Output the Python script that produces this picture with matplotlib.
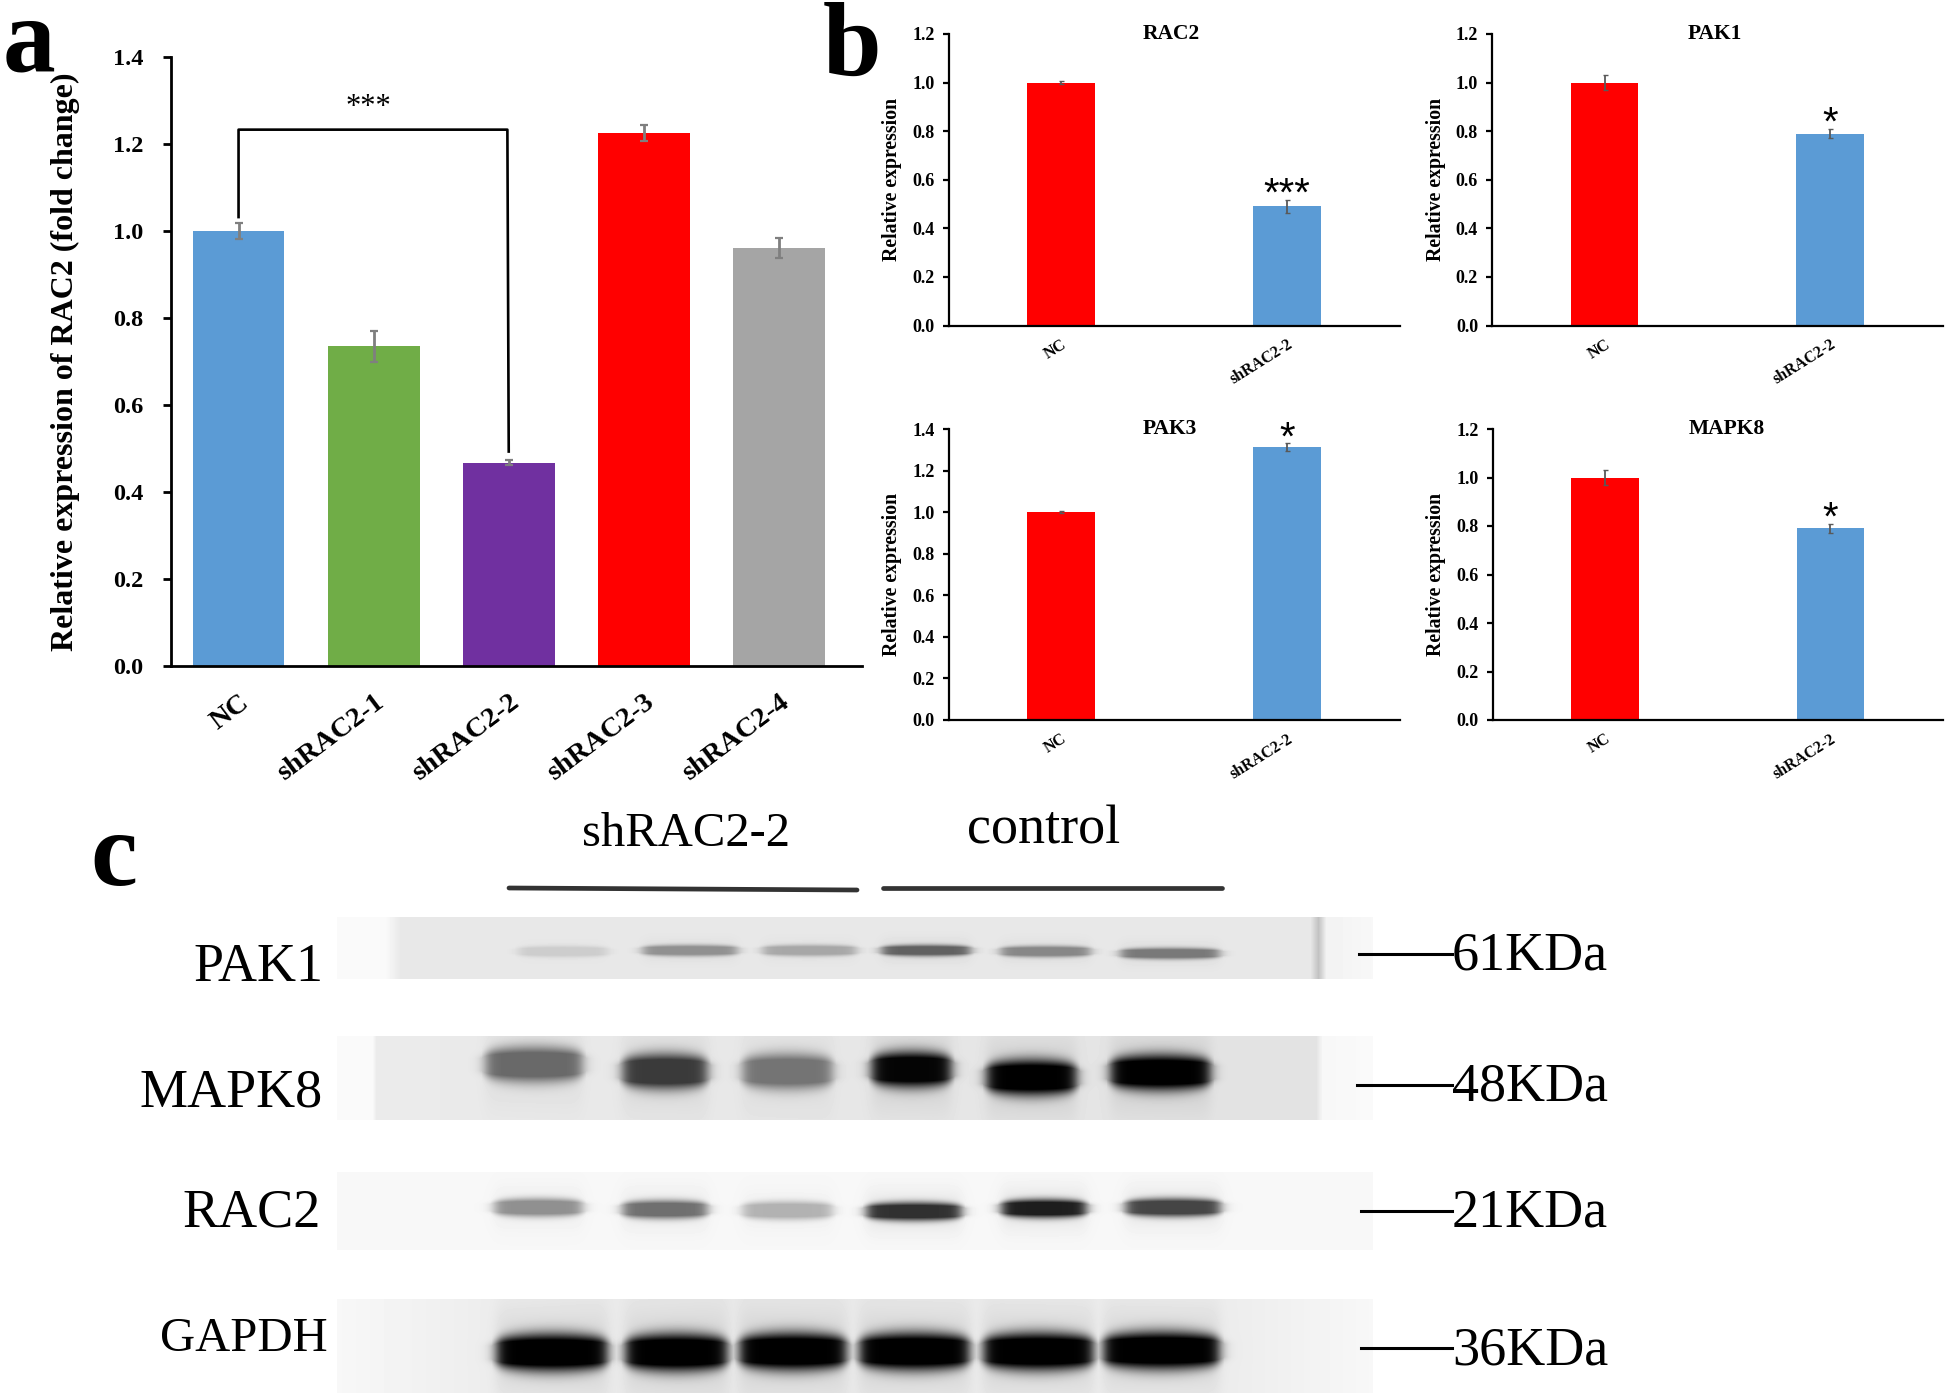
import numpy as np
import matplotlib
matplotlib.use('Agg')
import matplotlib.pyplot as plt
from matplotlib.transforms import ScaledTranslation

plt.rcParams['font.family'] = ['Liberation Serif', 'DejaVu Serif']

W, H = 1946, 1396

# panel a
a_labels = ['NC', 'shRAC2-1', 'shRAC2-2', 'shRAC2-3', 'shRAC2-4']
a_values = [1.0, 0.735, 0.467, 1.225, 0.962]
a_errors = [0.018, 0.035, 0.006, 0.018, 0.023]
a_colors = ['#5B9BD5', '#70AD47', '#7030A0', '#FF0000', '#A5A5A5']
a_ticks = [0.0, 0.2, 0.4, 0.6, 0.8, 1.0, 1.2, 1.4]

# panel b
b_labels = ['NC', 'shRAC2-2']
b_titles = ['RAC2', 'PAK1', 'PAK3', 'MAPK8']
b_values = [[1.0, 0.49], [1.0, 0.79], [1.0, 1.315], [1.0, 0.79]]
b_errors = [[0.006, 0.028], [0.03, 0.018], [0.005, 0.02], [0.03, 0.018]]
b_stars = ['***', '*', '*', '*']
b_star_y = [0.54, 0.83, 1.355, 0.83]
b_ymax = [1.2, 1.2, 1.4, 1.2]

# panel c: band darkness per lane (0 = none, 1 = black)
blot_names = ['PAK1', 'MAPK8', 'RAC2', 'GAPDH']
blot_sizes = ['61KDa', '48KDa', '21KDa', '36KDa']
pak1_bands = [0.12, 0.38, 0.28, 0.58, 0.42, 0.48]
mapk8_bands = [0.55, 0.75, 0.5, 0.98, 1.0, 1.0]
rac2_bands = [0.42, 0.55, 0.28, 0.8, 0.88, 0.72]
gapdh_bands = [1.0, 1.0, 1.0, 1.0, 1.0, 1.0]


def px_axes(fig, left, top, right, bottom):
    return fig.add_axes([left / W, 1 - bottom / H, (right - left) / W, (bottom - top) / H])


def style_axes(ax, lw, tick_len, pad):
    ax.spines['top'].set_visible(False)
    ax.spines['right'].set_visible(False)
    ax.spines['left'].set_linewidth(lw)
    ax.spines['bottom'].set_linewidth(lw)
    ax.tick_params(axis='y', width=lw, length=tick_len, pad=pad)


def strip_image(bands, lanes, centre, half, bg_x, bg_v, top, bottom):
    """Grey picture of one blot strip, one pixel per figure pixel"""
    xs = np.arange(337, 1373)
    ys = np.arange(top, bottom)
    bg = np.interp(xs, bg_x, bg_v)
    gx, gy = np.meshgrid(xs, ys)
    dark = np.zeros(gx.shape)
    for strength, (x0, x1), cy in zip(bands, lanes, centre):
        mid, hw = (x0 + x1) / 2, (x1 - x0) / 2
        u = (gx - mid) / (hw * 1.08)
        # bands taper towards the lane ends
        local = half * (0.5 + 0.5 * np.sqrt(np.clip(1 - u ** 2, 0, 1))) + 0.5
        py = np.exp(-np.abs((gy - cy) / local) ** 2.6)
        px = 0.5 * (np.tanh((gx - x0) / 7.0) - np.tanh((gx - x1) / 7.0))
        halo = np.exp(-((gy - cy) / (half * 2.4)) ** 2) * 0.1
        dark = np.maximum(dark, strength * np.minimum(py * 1.3 + halo, 1) * px)
    return np.clip(bg[None, :] * (1 - dark), 0, 1)


fig = plt.figure(figsize=(W / 100, H / 100), dpi=100)
fig.patch.set_facecolor('white')

# a
ax = px_axes(fig, 171, 57, 862, 666)
xs = np.arange(len(a_values))
ax.bar(xs, a_values, width=0.68, color=a_colors)
ax.errorbar(xs, a_values, yerr=a_errors, fmt='none', ecolor='#7F7F7F',
            elinewidth=2, capsize=2.8, capthick=1.6)
ax.set_xlim(-0.5, 4.615)
ax.set_ylim(0, 1.4)
ax.set_yticks(a_ticks)
ax.set_yticklabels(['%.1f' % t for t in a_ticks], fontsize=17.5, fontweight='bold')
ax.set_xticks(xs)
ax.set_xticklabels(a_labels, fontsize=20.5, fontweight='bold', rotation=37,
                   ha='right', rotation_mode='anchor')
shift = ScaledTranslation(-5 / 100, 0, fig.dpi_scale_trans)
for label in ax.get_xticklabels():
    label.set_transform(label.get_transform() + shift)
style_axes(ax, 2.0, 6, 14)
ax.tick_params(axis='x', length=0, pad=17)
ax.set_ylabel('Relative expression of RAC2 (fold change)', fontsize=23, fontweight='bold')
ax.yaxis.set_label_coords(-0.131, 0.5)
ax.plot([0, 0, 1.99, 2.0], [1.032, 1.233, 1.233, 0.493], color='black', lw=1.9, clip_on=False)
ax.text(0.96, 1.283, '***', fontsize=22, ha='center', va='center')

# b
b_boxes = [(948.5, 34, 1399.5, 325.5), (1492, 34, 1942.5, 325.5),
           (948.5, 429, 1399.5, 720), (1492.5, 429, 1943, 720)]
for i, box in enumerate(b_boxes):
    ax = px_axes(fig, *box)
    ax.bar([0, 1], b_values[i], width=0.3, color=['#FF0000', '#5B9BD5'])
    ax.errorbar([0, 1], b_values[i], yerr=b_errors[i], fmt='none', ecolor='#595959',
                elinewidth=1.3, capsize=1.8, capthick=1)
    ax.set_xlim(-0.5, 1.5)
    ax.set_ylim(0, b_ymax[i])
    ticks = np.arange(0, b_ymax[i] + 0.01, 0.2)
    ax.set_yticks(ticks)
    ax.set_yticklabels(['%.1f' % t for t in ticks], fontsize=13, fontweight='bold')
    ax.set_xticks([0, 1])
    ax.set_xticklabels(b_labels, fontsize=11.5, fontweight='bold', rotation=32,
                       ha='right', rotation_mode='anchor')
    style_axes(ax, 1.6, 4, 6)
    ax.tick_params(axis='x', length=0, pad=8)
    ax.set_ylabel('Relative expression', fontsize=14.2, fontweight='bold')
    ax.yaxis.set_label_coords(-0.103, 0.5)
    ax.text(1, b_star_y[i], b_stars[i], fontsize=29, ha='center', va='center',
            family='Liberation Sans')
    title_x = [0.495, 0.495, 0.49, 0.52][i]
    ax.text(title_x, 1.0, b_titles[i], transform=ax.transAxes, fontsize=15.5,
            fontweight='bold', ha='center', va='center')

# c and everything placed by pixel
over = fig.add_axes([0, 0, 1, 1], zorder=5)
over.patch.set_alpha(0)
over.axis('off')

lanes_pak1 = [(518, 607), (642, 737), (762, 856), (881, 970), (1000, 1090), (1120, 1219)]
lanes_mapk8 = [(485, 582), (622, 707), (742, 832), (871, 951), (986, 1076), (1110, 1210)]
lanes_rac2 = [(494, 582), (622, 707), (742, 832), (866, 961), (1001, 1086), (1125, 1220)]
lanes_gapdh = [(496, 607), (625, 727), (739, 846), (859, 969), (983, 1093), (1103, 1219)]
strips = [
    (pak1_bands, lanes_pak1, [951, 950, 950, 950, 951, 953], 5, 917, 979,
     [337, 385, 400, 1310, 1318, 1326, 1373], [0.98, 0.98, 0.91, 0.91, 0.76, 0.95, 0.97]),
    (mapk8_bands, lanes_mapk8, [1064, 1071, 1071, 1069, 1077, 1072], 17, 1036, 1120,
     [337, 372, 376, 1316, 1322, 1373], [0.98, 0.98, 0.92, 0.89, 0.97, 0.98]),
    (rac2_bands, lanes_rac2, [1207, 1209, 1210, 1211, 1208, 1207], 8.5, 1172, 1250,
     [337, 1373], [0.97, 0.97]),
    (gapdh_bands, lanes_gapdh, [1352, 1352, 1351, 1351, 1351, 1350], 18, 1299, 1393,
     [337, 480, 700, 1240, 1373], [0.97, 0.93, 0.91, 0.93, 0.97]),
]
for bands, lanes, centre, half, top, bottom, bg_x, bg_v in strips:
    img = strip_image(bands, lanes, centre, half, bg_x, bg_v, top, bottom)
    over.imshow(img, cmap='gray', vmin=0, vmax=1, extent=(337, 1373, bottom, top),
                aspect='auto', interpolation='bilinear')
over.set_xlim(0, W)
over.set_ylim(H, 0)

for name, x, y, fs in zip(blot_names, [323, 323, 321, 328], [968, 1093, 1213, 1339], [39, 39, 39, 35]):
    over.text(x, y, name, fontsize=fs, ha='right', va='center')
for size, y, x0, ly in zip(blot_sizes, [956, 1087, 1213, 1351],
                           [1359, 1357, 1361, 1361], [954, 1085, 1211, 1348]):
    over.text(1452, y, size, fontsize=39, ha='left', va='center')
    over.plot([x0, 1452], [ly, ly], color='black', lw=2.2)

over.text(686, 834, 'shRAC2-2', fontsize=35, ha='center', va='center')
over.text(1044, 830, 'control', fontsize=39, ha='center', va='center')
over.plot([509, 857], [888, 890], color='#333333', lw=3.4, solid_capstyle='round')
over.plot([883, 1222], [888, 888], color='#333333', lw=3.4, solid_capstyle='round')

for letter, x, y in [('a', 3, 71), ('b', 823, 76), ('c', 90, 885)]:
    over.text(x, y, letter, fontsize=76, fontweight='bold', ha='left', va='baseline')

fig.savefig('out.png', dpi=100)
